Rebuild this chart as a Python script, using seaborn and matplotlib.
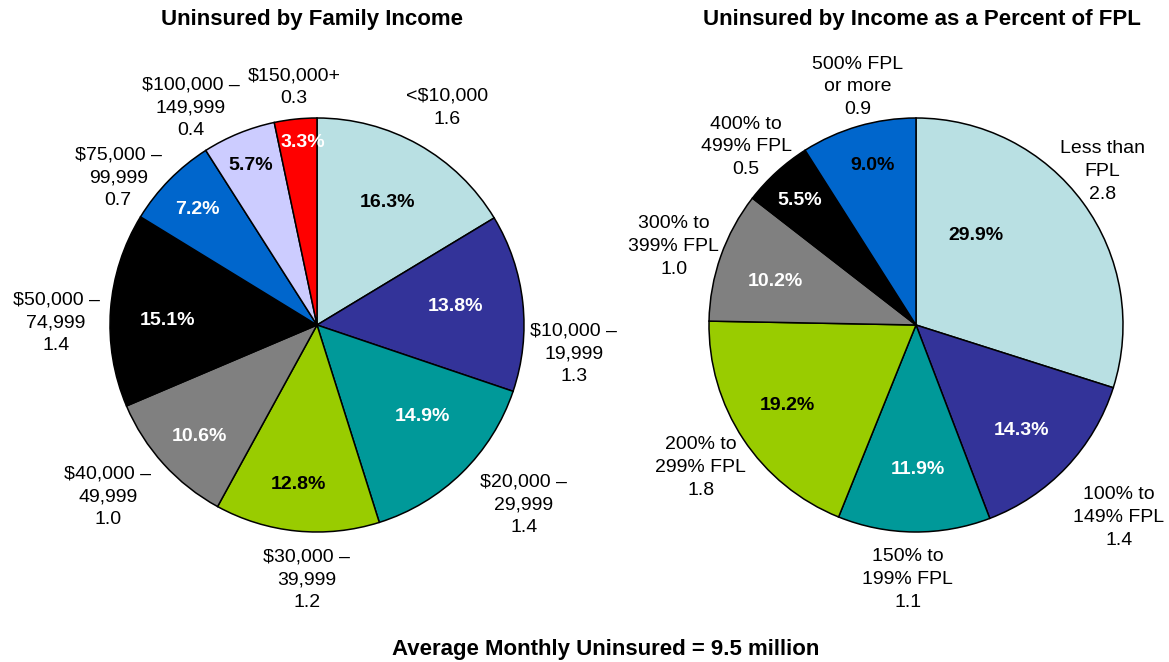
import matplotlib
matplotlib.use("Agg")
import matplotlib.pyplot as plt
import seaborn as sns
import numpy as np

# ---- data ----
income_labels = ["<$10,000\n1.6", "$10,000 –\n19,999\n1.3", "$20,000 –\n29,999\n1.4",
                 "$30,000 –\n39,999\n1.2", "$40,000 –\n49,999\n1.0", "$50,000 –\n74,999\n1.4",
                 "$75,000 –\n99,999\n0.7", "$100,000 –\n149,999\n0.4", "$150,000+\n0.3"]
income_pct = [16.3, 13.8, 14.9, 12.8, 10.6, 15.1, 7.2, 5.7, 3.3]

fpl_labels = ["Less than\nFPL\n2.8", "100% to\n149% FPL\n1.4", "150% to\n199% FPL\n1.1",
              "200% to\n299% FPL\n1.8", "300% to\n399% FPL\n1.0", "400% to\n499% FPL\n0.5",
              "500% FPL\nor more\n0.9"]
fpl_pct = [29.9, 14.3, 11.9, 19.2, 10.2, 5.5, 9.0]

income_colors = ["#B9E0E3", "#333399", "#009999", "#99CC00", "#808080", "#000000",
                 "#0066CC", "#CCCCFF", "#FF0000"]
fpl_colors = ["#B9E0E3", "#333399", "#009999", "#99CC00", "#808080", "#000000", "#0066CC"]

income_pct_txtcolor = ["black", "white", "white", "black", "white", "white", "white", "black", "white"]
fpl_pct_txtcolor = ["black", "white", "white", "black", "white", "white", "black"]

# ---- layout (text placement in units of pie radius) ----
income_label_xy = [(0.63, 1.05), (1.24, -0.14), (1.00, -0.87), (-0.05, -1.23), (-1.01, -0.83),
                   (-1.26, 0.01), (-0.96, 0.71), (-0.61, 1.05), (-0.11, 1.15)]
income_pct_xy = [(0.34, 0.59), (0.67, 0.09), (0.51, -0.44), (-0.09, -0.77), (-0.57, -0.54),
                 (-0.72, 0.02), (-0.58, 0.56), (-0.32, 0.77), (-0.07, 0.88)]
fpl_label_xy = [(0.90, 0.74), (0.98, -0.93), (-0.04, -1.23), (-1.04, -0.69), (-1.17, 0.38),
                (-0.82, 0.86), (-0.28, 1.15)]
fpl_pct_xy = [(0.29, 0.43), (0.51, -0.51), (0.01, -0.70), (-0.62, -0.39), (-0.68, 0.21),
              (-0.56, 0.60), (-0.21, 0.77)]

sns.set_style("white")
plt.rcParams['font.family'] = ['Liberation Sans', 'DejaVu Sans']
plt.rcParams['text.color'] = 'black'

W, H = 1169, 662
fig = plt.figure(figsize=(W / 100, H / 100), dpi=100)
R = 207.0
half = 1.5


def make_ax(cx, cy):
    # cx, cy: pie center in pixels (cy from top)
    left = (cx - half * R) / W
    bottom = (H - cy - half * R) / H
    ax = fig.add_axes([left, bottom, 2 * half * R / W, 2 * half * R / H])
    ax.set_xlim(-half, half)
    ax.set_ylim(-half, half)
    ax.axis("off")
    return ax


def draw(ax, vals, colors, labels, label_xy, pct_xy, pct_colors):
    ax.pie(vals, colors=sns.color_palette(colors), startangle=90, counterclock=False,
           radius=1.0, wedgeprops=dict(edgecolor="black", linewidth=1.1),
           frame=False)
    ax.set_xlim(-half, half)
    ax.set_ylim(-half, half)
    ax.set_aspect("equal")
    for lab, (x, y) in zip(labels, label_xy):
        ax.text(x, y, lab, ha="center", va="center", fontsize=14, linespacing=1.45,
                color="black")
    for v, (x, y), c in zip(vals, pct_xy, pct_colors):
        ax.text(x, y, f"{v:.1f}%", ha="center", va="center", fontsize=14,
                fontweight="bold", color=c)


ax1 = make_ax(317, 325)
draw(ax1, income_pct, income_colors, income_labels, income_label_xy, income_pct_xy,
     income_pct_txtcolor)
ax2 = make_ax(916, 325)
draw(ax2, fpl_pct, fpl_colors, fpl_labels, fpl_label_xy, fpl_pct_xy, fpl_pct_txtcolor)

fig.text(312 / W, 1 - 20 / H, "Uninsured by Family Income", ha="center", va="center",
         fontsize=16, fontweight="bold", color="black")
fig.text(922 / W, 1 - 20 / H, "Uninsured by Income as a Percent of FPL", ha="center",
         va="center", fontsize=16, fontweight="bold", color="black")
fig.text(606 / W, 1 - 649 / H, "Average Monthly Uninsured = 9.5 million", ha="center",
         va="center", fontsize=16, fontweight="bold", color="black")

fig.savefig("out.png", dpi=100, facecolor="white")
